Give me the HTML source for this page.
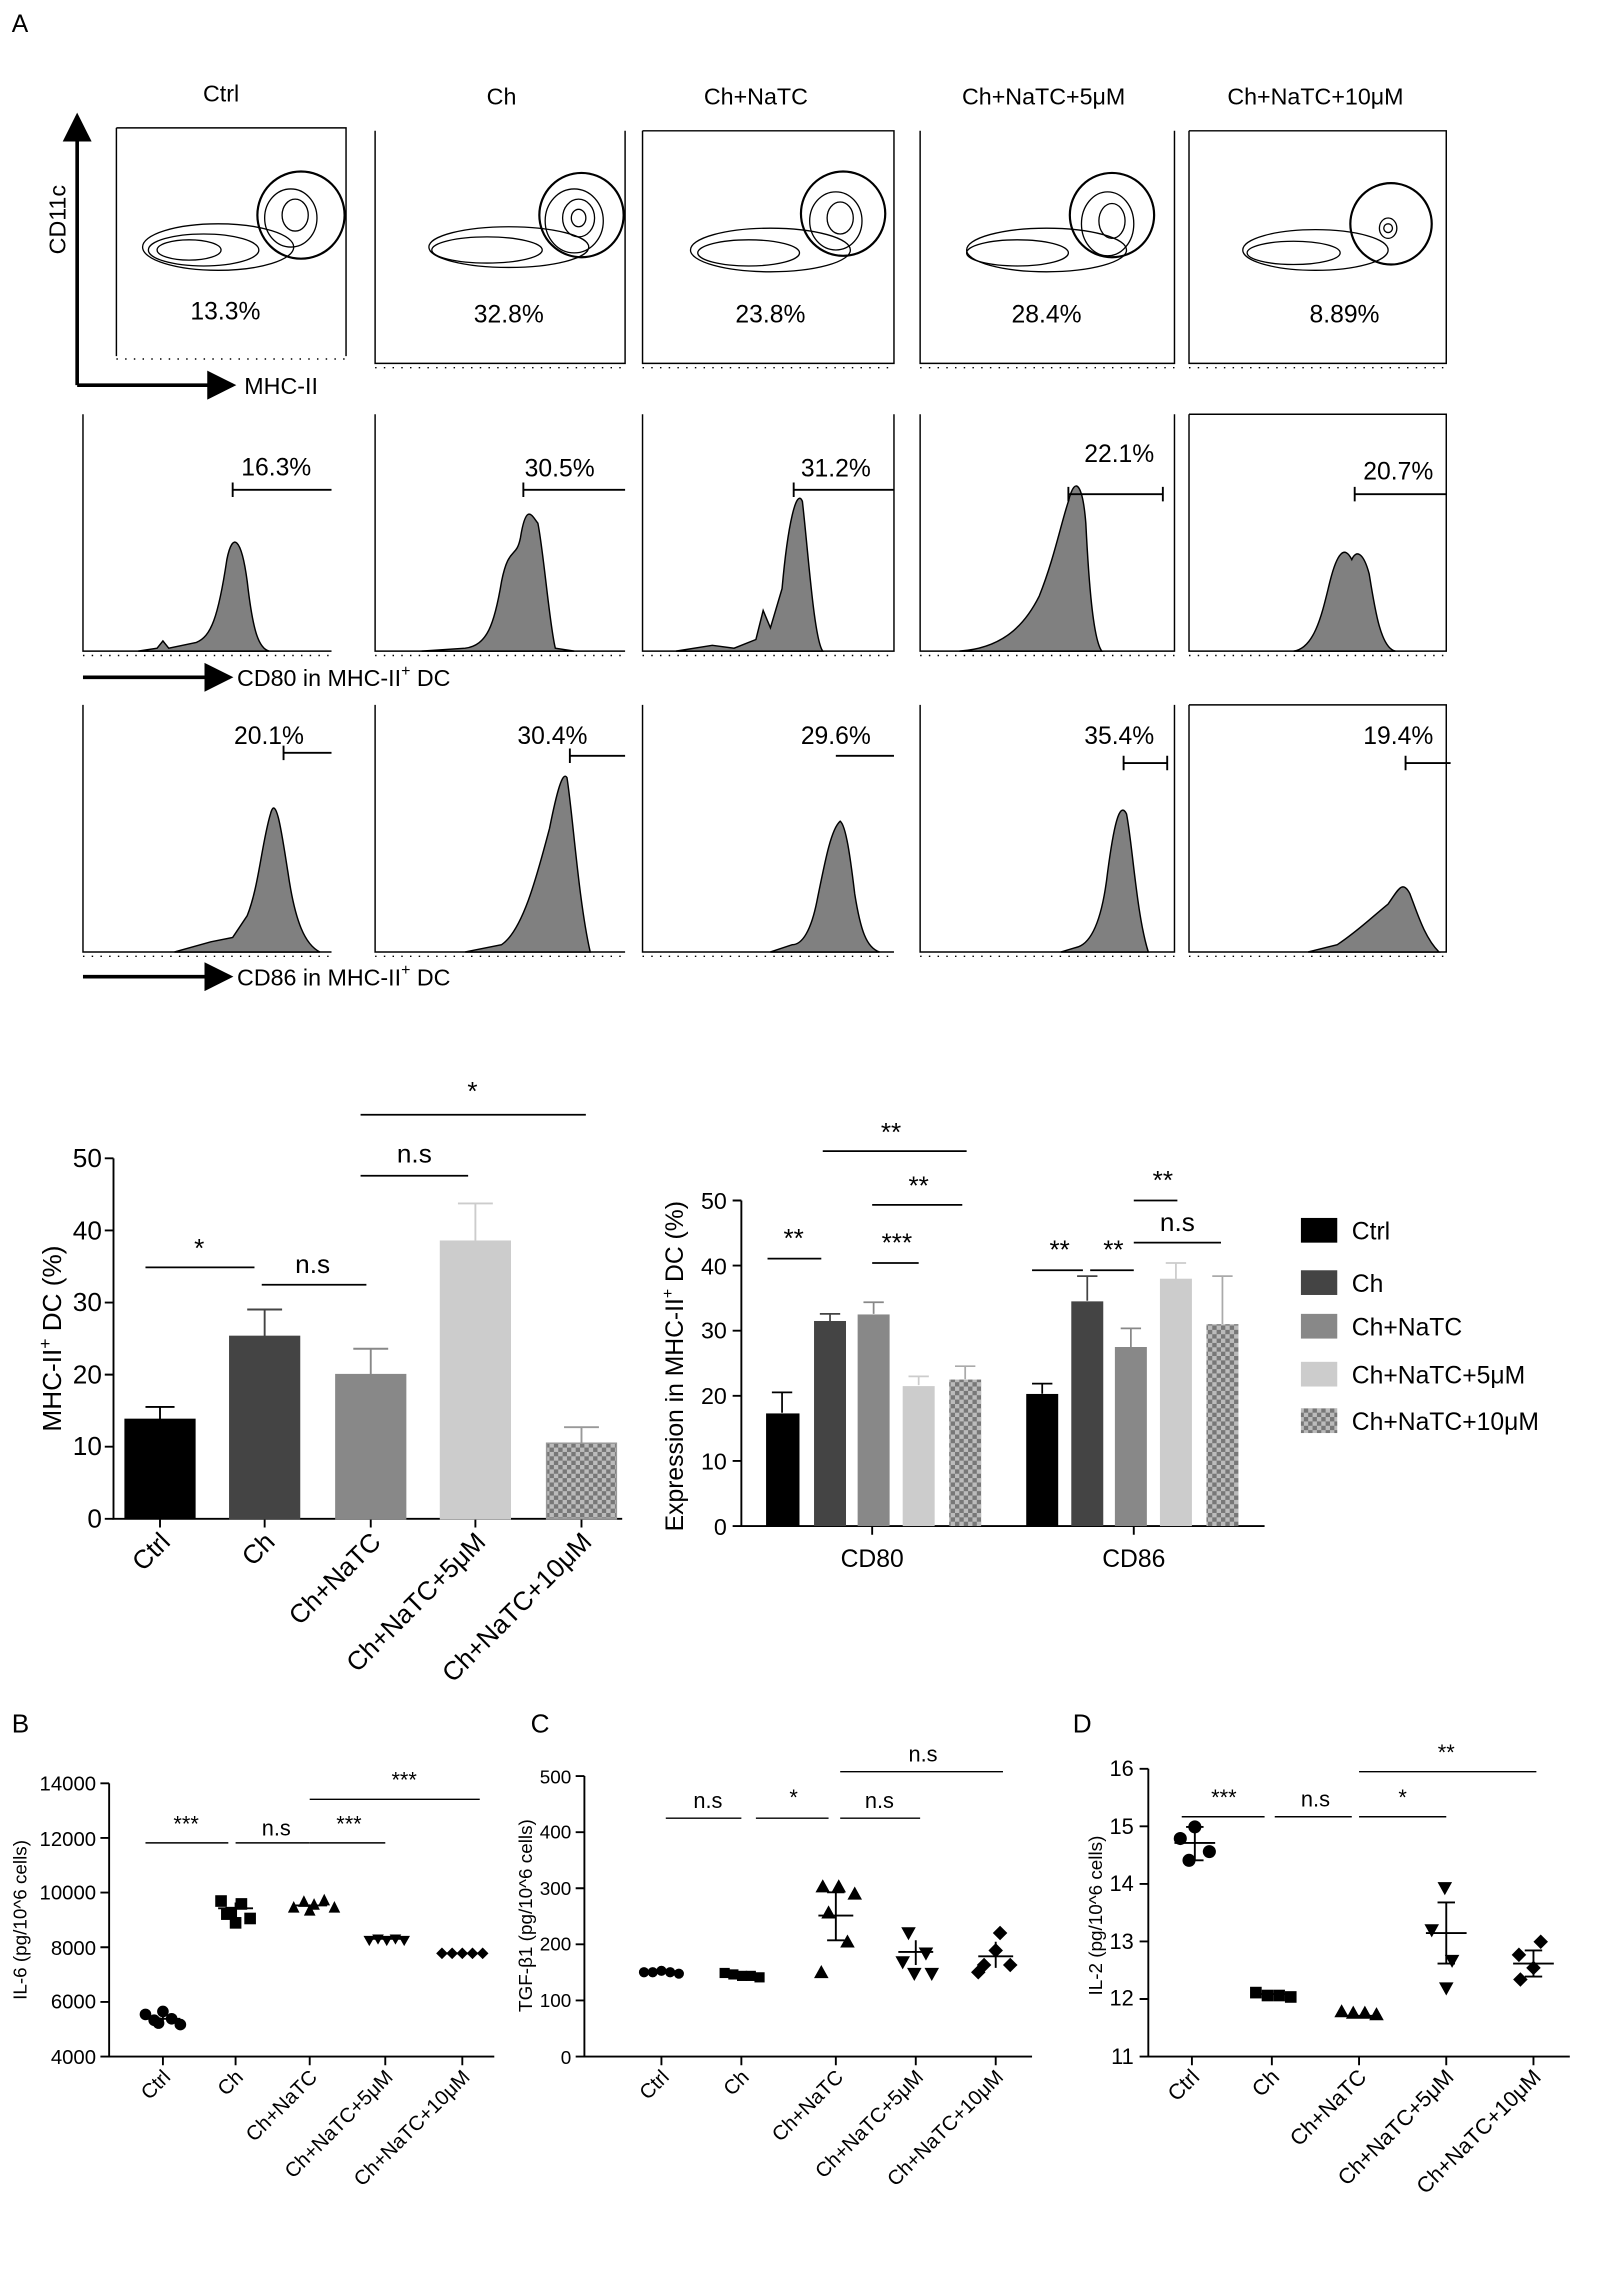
<!DOCTYPE html>
<html><head><meta charset="utf-8"><style>
html,body{margin:0;padding:0;background:#fff}
svg{display:block}
text{font-family:"Liberation Sans",Arial,sans-serif;fill:#000}
</style></head><body>
<svg width="1599" height="2292" viewBox="0 0 1100 1577" xmlns="http://www.w3.org/2000/svg">
<defs>
<pattern id="chk" width="6" height="6" patternUnits="userSpaceOnUse">
<rect width="6" height="6" fill="#bbb"/><rect width="3" height="3" fill="#777"/><rect x="3" y="3" width="3" height="3" fill="#777"/>
</pattern>
<marker id="ar" markerWidth="8" markerHeight="8" refX="7" refY="4" orient="auto"><path d="M0,0 L8,4 L0,8 Z" fill="#000"/></marker>
</defs>
<text x="8" y="22" font-size="17">A</text>
<g font-size="16" text-anchor="middle">
<text x="152" y="70">Ctrl</text><text x="345" y="72">Ch</text><text x="520" y="72">Ch+NaTC</text><text x="718" y="72">Ch+NaTC+5μM</text><text x="905" y="72">Ch+NaTC+10μM</text>
</g>
<g fill="none" stroke="#000" stroke-width="1">
<path d="M80,88 V245 M80,88 H238 V245"/>
<path d="M258,90 V250 H430 V90"/>
<path d="M442,90 V250 H615 V90 H442"/>
<path d="M633,90 V250 H808 V90"/>
<path d="M818,90 V250 H995 V90 H818"/>
</g>
<g stroke="#000" stroke-width="1" stroke-dasharray="1 5">
<line x1="80" y1="247" x2="238" y2="247"/><line x1="258" y1="253" x2="430" y2="253"/><line x1="442" y1="253" x2="615" y2="253"/><line x1="633" y1="253" x2="808" y2="253"/><line x1="818" y1="253" x2="995" y2="253"/>
</g>
<line x1="53" y1="265" x2="53" y2="80" stroke="#000" stroke-width="2.5" marker-end="url(#ar)"/>
<line x1="53" y1="265" x2="160" y2="265" stroke="#000" stroke-width="2.5" marker-end="url(#ar)"/>
<text x="30" y="170" font-size="16" transform="rotate(-90 40 165)">CD11c</text>
<text x="168" y="271" font-size="16">MHC-II</text>
<g fill="none" stroke="#000" stroke-width="0.9">
<g>
<ellipse cx="150" cy="170" rx="52" ry="16"/><ellipse cx="140" cy="172" rx="38" ry="11"/><ellipse cx="130" cy="172" rx="22" ry="7"/><ellipse cx="200" cy="150" rx="18" ry="20"/><ellipse cx="203" cy="148" rx="9" ry="11"/>
<circle cx="207" cy="148" r="30" stroke-width="1.5"/>
</g>
<g transform="translate(200,2)">
<ellipse cx="150" cy="168" rx="55" ry="14"/><ellipse cx="135" cy="170" rx="38" ry="9"/><ellipse cx="195" cy="150" rx="20" ry="22"/><ellipse cx="198" cy="148" rx="11" ry="13"/><ellipse cx="198" cy="148" rx="5" ry="6"/>
<circle cx="200" cy="146" r="29" stroke-width="1.5"/>
</g>
<g transform="translate(380,2)">
<ellipse cx="150" cy="170" rx="55" ry="15"/><ellipse cx="135" cy="172" rx="35" ry="9"/><ellipse cx="195" cy="150" rx="18" ry="20"/><ellipse cx="198" cy="148" rx="9" ry="11"/>
<circle cx="200" cy="145" r="29" stroke-width="1.5"/>
</g>
<g transform="translate(570,2)">
<ellipse cx="150" cy="170" rx="55" ry="15"/><ellipse cx="130" cy="172" rx="35" ry="9"/><ellipse cx="192" cy="152" rx="18" ry="22"/><ellipse cx="195" cy="150" rx="9" ry="12"/>
<circle cx="195" cy="146" r="29" stroke-width="1.5"/>
</g>
<g transform="translate(755,2)">
<ellipse cx="150" cy="170" rx="50" ry="14"/><ellipse cx="135" cy="172" rx="32" ry="8"/><ellipse cx="200" cy="155" rx="6" ry="7"/><ellipse cx="200" cy="155" rx="3" ry="3"/>
<circle cx="202" cy="152" r="28" stroke-width="1.5"/>
</g>
</g>
<g font-size="17" text-anchor="middle">
<text x="155" y="220">13.3%</text><text x="350" y="222">32.8%</text><text x="530" y="222">23.8%</text><text x="720" y="222">28.4%</text><text x="925" y="222">8.89%</text>
</g>
<g fill="none" stroke="#000" stroke-width="1">
<path d="M57,285 V448 H228"/><path d="M258,285 V448 H430"/><path d="M442,285 V448 H615 V285"/><path d="M633,285 V448 H808 V285"/><path d="M818,285 V448 H995 V285 H818"/>
<path d="M57,485 V655 H228"/><path d="M258,485 V655 H430"/><path d="M442,485 V655 H615"/><path d="M633,485 V655 H808 V485"/><path d="M818,485 V655 H995 V485 H818"/>
</g>
<g stroke="#000" stroke-width="1" stroke-dasharray="1 5">
<line x1="57" y1="451" x2="228" y2="451"/><line x1="258" y1="451" x2="430" y2="451"/><line x1="442" y1="451" x2="615" y2="451"/><line x1="633" y1="451" x2="808" y2="451"/><line x1="818" y1="451" x2="995" y2="451"/>
<line x1="57" y1="658" x2="228" y2="658"/><line x1="258" y1="658" x2="430" y2="658"/><line x1="442" y1="658" x2="615" y2="658"/><line x1="633" y1="658" x2="808" y2="658"/><line x1="818" y1="658" x2="995" y2="658"/>
</g>
<g fill="#808080" stroke="#000" stroke-width="1">
<path d="M95,448 L108,446 L112,441 L116,446 L135,442 C145,438 150,425 156,385 C160,365 166,370 170,400 C174,435 178,446 185,448 Z"/>
<path d="M290,448 L320,446 C335,444 340,430 345,400 C350,375 355,385 358,370 C362,345 366,355 370,360 C374,380 378,430 382,446 L395,448 Z"/>
<path d="M465,448 L490,444 L505,446 L520,440 L525,420 L530,432 L538,405 C542,360 548,335 552,345 C556,380 560,440 566,448 Z"/>
<path d="M660,448 C690,446 705,430 715,410 C725,385 730,360 735,345 C740,325 745,335 747,360 C749,400 752,440 758,448 Z"/>
<path d="M890,448 C905,446 910,420 915,400 C920,380 925,375 930,385 C933,378 938,380 942,395 C946,420 950,446 960,448 Z"/>
<path d="M120,655 L145,648 L160,645 L170,630 C178,610 180,580 186,560 C190,545 194,575 198,600 C203,635 210,650 220,655 Z"/>
<path d="M320,655 L345,650 C360,640 370,600 378,570 C383,545 387,530 390,535 C394,560 398,620 406,655 Z"/>
<path d="M530,655 L545,650 C552,650 558,640 562,620 C568,590 572,570 578,565 C582,568 585,590 588,615 C592,640 596,652 605,655 Z"/>
<path d="M730,655 L740,652 C750,650 758,635 762,600 C766,570 770,550 775,560 C779,580 782,630 790,655 Z"/>
<path d="M900,655 L920,650 C935,640 945,630 955,622 C962,612 965,605 970,615 C975,628 980,645 990,655 Z"/>
</g>
<g stroke="#000" stroke-width="1.3">
<path d="M160,337 H228 M160,332 V342"/><path d="M360,337 H430 M360,332 V342"/><path d="M546,337 H615 M546,332 V342"/><path d="M735,340 H800 M735,335 V345 M800,335 V345"/><path d="M932,340 H995 M932,335 V345"/>
<path d="M195,518 H228 M195,513 V523"/><path d="M392,520 H430 M392,515 V525"/><path d="M575,520 H615"/><path d="M773,525 H803 M773,520 V530 M803,520 V530"/><path d="M967,525 H998 M967,520 V530"/>
</g>
<g font-size="17" text-anchor="middle">
<text x="190" y="327">16.3%</text><text x="385" y="328">30.5%</text><text x="575" y="328">31.2%</text><text x="770" y="318">22.1%</text><text x="962" y="330">20.7%</text>
<text x="185" y="512">20.1%</text><text x="380" y="512">30.4%</text><text x="575" y="512">29.6%</text><text x="770" y="512">35.4%</text><text x="962" y="512">19.4%</text>
</g>
<line x1="57" y1="466" x2="158" y2="466" stroke="#000" stroke-width="2.5" marker-end="url(#ar)"/>
<text x="163" y="472" font-size="16">CD80 in MHC-II<tspan font-size="11" dy="-7">+</tspan><tspan dy="7"> DC</tspan></text>
<line x1="57" y1="672" x2="158" y2="672" stroke="#000" stroke-width="2.5" marker-end="url(#ar)"/>
<text x="163" y="678" font-size="16">CD86 in MHC-II<tspan font-size="11" dy="-7">+</tspan><tspan dy="7"> DC</tspan></text>

<!-- Bar chart 1 -->
<g stroke="#000" stroke-width="1.3" fill="none">
<path d="M78,797 V1045 H428"/>
<path d="M72,797 H78 M72,846.6 H78 M72,896.2 H78 M72,945.8 H78 M72,995.4 H78 M72,1045 H78"/>
<path d="M110,1045 V1051 M182,1045 V1051 M255,1045 V1051 M327,1045 V1051 M400,1045 V1051"/>
</g>
<g font-size="18" text-anchor="end">
<text x="70" y="803">50</text><text x="70" y="853">40</text><text x="70" y="902">30</text><text x="70" y="952">20</text><text x="70" y="1001">10</text><text x="70" y="1051">0</text>
</g>
<text font-size="18" text-anchor="middle" transform="translate(42,921) rotate(-90)">MHC-II<tspan font-size="12" dy="-7">+</tspan><tspan dy="7"> DC (%)</tspan></text>
<g stroke="#000" stroke-width="1">
<rect x="86" y="976.6" width="48" height="68.4" fill="#000"/>
<rect x="158" y="919.5" width="48" height="125.5" fill="#444" stroke="#444"/>
<rect x="231" y="945.8" width="48" height="99.2" fill="#888" stroke="#888"/>
<rect x="303" y="854" width="48" height="191" fill="#ccc" stroke="#ccc"/>
<rect x="376" y="993" width="48" height="52" fill="url(#chk)" stroke="#999"/>
</g>
<g stroke-width="1.3" fill="none">
<path d="M110,976.6 V968 M100,968 H120" stroke="#000"/>
<path d="M182,919.5 V901 M170,901 H194" stroke="#444"/>
<path d="M255,945.8 V928 M243,928 H267" stroke="#888"/>
<path d="M327,854 V828 M315,828 H339" stroke="#ccc"/>
<path d="M400,993 V982 M388,982 H412" stroke="#999"/>
</g>
<g stroke="#000" stroke-width="1.2">
<line x1="100" y1="872" x2="175" y2="872"/><line x1="180" y1="884" x2="252" y2="884"/><line x1="248" y1="809" x2="322" y2="809"/><line x1="248" y1="767" x2="403" y2="767"/>
</g>
<g font-size="18" text-anchor="middle">
<text x="137" y="865">*</text><text x="215" y="876">n.s</text><text x="285" y="800">n.s</text><text x="325" y="757">*</text>
</g>
<g font-size="18" text-anchor="end">
<text transform="translate(118,1062) rotate(-45)">Ctrl</text>
<text transform="translate(190,1062) rotate(-45)">Ch</text>
<text transform="translate(263,1062) rotate(-45)">Ch+NaTC</text>
<text transform="translate(335,1062) rotate(-45)">Ch+NaTC+5μM</text>
<text transform="translate(408,1062) rotate(-45)">Ch+NaTC+10μM</text>
</g>

<!-- Bar chart 2 -->
<g stroke="#000" stroke-width="1.3" fill="none">
<path d="M510,826 V1050 H870"/>
<path d="M504,826 H510 M504,870.8 H510 M504,915.6 H510 M504,960.4 H510 M504,1005.2 H510 M504,1050 H510"/>
<path d="M600,1050 V1056 M780,1050 V1056"/>
</g>
<g font-size="16" text-anchor="end">
<text x="500" y="832">50</text><text x="500" y="877">40</text><text x="500" y="921">30</text><text x="500" y="966">20</text><text x="500" y="1011">10</text><text x="500" y="1056">0</text>
</g>
<text font-size="17" text-anchor="middle" transform="translate(470,940) rotate(-90)">Expression in MHC-II<tspan font-size="11" dy="-7">+</tspan><tspan dy="7"> DC (%)</tspan></text>
<g>
<rect x="527" y="972.5" width="23" height="77.5" fill="#000"/>
<rect x="560" y="908.9" width="22" height="141.1" fill="#444"/>
<rect x="590" y="904.4" width="22" height="145.6" fill="#888"/>
<rect x="621" y="953.7" width="22" height="96.3" fill="#ccc"/>
<rect x="653" y="949.2" width="22" height="100.8" fill="url(#chk)"/>
<rect x="706" y="959.1" width="22" height="90.9" fill="#000"/>
<rect x="737" y="895.4" width="22" height="154.6" fill="#444"/>
<rect x="767" y="926.8" width="22" height="123.2" fill="#888"/>
<rect x="798" y="879.8" width="22" height="170.2" fill="#ccc"/>
<rect x="830" y="911.1" width="22" height="138.9" fill="url(#chk)"/>
</g>
<g stroke-width="1.2" fill="none">
<path d="M538,972 V958 M531,958 H545" stroke="#000"/>
<path d="M571,909 V904 M564,904 H578" stroke="#444"/>
<path d="M601,904 V896 M594,896 H608" stroke="#888"/>
<path d="M632,953 V947 M625,947 H639" stroke="#ccc"/>
<path d="M664,949 V940 M657,940 H671" stroke="#aaa"/>
<path d="M717,959 V952 M710,952 H724" stroke="#000"/>
<path d="M748,895 V878 M741,878 H755" stroke="#444"/>
<path d="M778,927 V914 M771,914 H785" stroke="#888"/>
<path d="M809,880 V869 M802,869 H816" stroke="#ccc"/>
<path d="M841,911 V878 M834,878 H848" stroke="#aaa"/>
</g>
<g stroke="#000" stroke-width="1.2">
<line x1="528" y1="866" x2="565" y2="866"/><line x1="566" y1="792" x2="665" y2="792"/><line x1="600" y1="829" x2="662" y2="829"/><line x1="600" y1="869" x2="632" y2="869"/>
<line x1="710" y1="874" x2="745" y2="874"/><line x1="750" y1="874" x2="780" y2="874"/><line x1="780" y1="826" x2="810" y2="826"/><line x1="780" y1="855" x2="840" y2="855"/>
</g>
<g font-size="18" text-anchor="middle">
<text x="546" y="858">**</text><text x="613" y="785">**</text><text x="632" y="822">**</text><text x="617" y="861">***</text>
<text x="729" y="866">**</text><text x="766" y="866">**</text><text x="800" y="818">**</text><text x="810" y="847">n.s</text>
</g>
<g font-size="17" text-anchor="middle"><text x="600" y="1078">CD80</text><text x="780" y="1078">CD86</text></g>
<rect x="895" y="838" width="25" height="17" fill="#000"/>
<rect x="895" y="874" width="25" height="17" fill="#444"/>
<rect x="895" y="904" width="25" height="17" fill="#888"/>
<rect x="895" y="937" width="25" height="17" fill="#ccc"/>
<rect x="895" y="969" width="25" height="17" fill="url(#chk)"/>
<g font-size="17">
<text x="930" y="853">Ctrl</text><text x="930" y="889">Ch</text><text x="930" y="919">Ch+NaTC</text><text x="930" y="952">Ch+NaTC+5μM</text><text x="930" y="984">Ch+NaTC+10μM</text>
</g>

<!-- B -->
<text x="8" y="1192" font-size="18">B</text>
<g stroke="#000" stroke-width="1.3" fill="none">
<path d="M75,1227 V1415 H340"/>
<path d="M69,1227 H75 M69,1264.6 H75 M69,1302.2 H75 M69,1339.8 H75 M69,1377.4 H75 M69,1415 H75"/>
<path d="M112,1415 V1421 M162,1415 V1421 M213,1415 V1421 M265,1415 V1421 M318,1415 V1421"/>
</g>
<g font-size="14" text-anchor="end">
<text x="66" y="1232">14000</text><text x="66" y="1270">12000</text><text x="66" y="1307">10000</text><text x="66" y="1345">8000</text><text x="66" y="1382">6000</text><text x="66" y="1420">4000</text>
</g>
<text font-size="13" text-anchor="middle" transform="translate(18,1321) rotate(-90)">IL-6 (pg/10^6 cells)</text>
<g fill="#000">
<circle cx="100" cy="1386" r="4"/><circle cx="106" cy="1390" r="4"/><circle cx="112" cy="1384" r="4"/><circle cx="118" cy="1389" r="4"/><circle cx="124" cy="1393" r="4"/><circle cx="109" cy="1392" r="4"/>
<rect x="148" y="1304" width="8" height="8"/><rect x="155" y="1312" width="8" height="8"/><rect x="162" y="1306" width="8" height="8"/><rect x="168" y="1316" width="8" height="8"/><rect x="158" y="1319" width="8" height="8"/><rect x="152" y="1313" width="8" height="8"/>
<path d="M198,1316 l4,-8 l4,8z M205,1312 l4,-8 l4,8z M212,1314 l4,-8 l4,8z M219,1311 l4,-8 l4,8z M226,1316 l4,-8 l4,8z M209,1318 l4,-8 l4,8z"/>
<path d="M250,1332 l4,7 l4,-7z M256,1331 l4,7 l4,-7z M262,1332 l4,7 l4,-7z M268,1331 l4,7 l4,-7z M274,1332 l4,7 l4,-7z"/>
<path d="M300,1344 l4,-4 l4,4 l-4,4z M307,1344 l4,-4 l4,4 l-4,4z M314,1344 l4,-4 l4,4 l-4,4z M321,1344 l4,-4 l4,4 l-4,4z M328,1344 l4,-4 l4,4 l-4,4z"/>
</g>
<g stroke="#000" stroke-width="1.3">
<path d="M100,1389 H124 M112,1387 V1391"/><path d="M150,1313 H174 M162,1309 V1318"/><path d="M201,1311 H225"/><path d="M253,1334 H277"/><path d="M306,1344 H330"/>
</g>
<g stroke="#000" stroke-width="1">
<line x1="100" y1="1268" x2="157" y2="1268"/><line x1="162" y1="1268" x2="213" y2="1268"/><line x1="213" y1="1268" x2="265" y2="1268"/><line x1="213" y1="1238" x2="330" y2="1238"/>
</g>
<g font-size="15" text-anchor="middle"><text x="128" y="1260">***</text><text x="190" y="1263">n.s</text><text x="240" y="1260">***</text><text x="278" y="1230">***</text></g>
<g font-size="14" text-anchor="end">
<text transform="translate(118,1430) rotate(-45)">Ctrl</text><text transform="translate(168,1430) rotate(-45)">Ch</text><text transform="translate(219,1430) rotate(-45)">Ch+NaTC</text><text transform="translate(271,1430) rotate(-45)">Ch+NaTC+5μM</text><text transform="translate(324,1430) rotate(-45)">Ch+NaTC+10μM</text>
</g>

<!-- C -->
<text x="365" y="1192" font-size="18">C</text>
<g stroke="#000" stroke-width="1.3" fill="none">
<path d="M402,1222 V1415 H710"/>
<path d="M396,1222 H402 M396,1260.6 H402 M396,1299.2 H402 M396,1337.8 H402 M396,1376.4 H402 M396,1415 H402"/>
<path d="M455,1415 V1421 M510,1415 V1421 M575,1415 V1421 M630,1415 V1421 M685,1415 V1421"/>
</g>
<g font-size="13" text-anchor="end">
<text x="393" y="1227">500</text><text x="393" y="1265">400</text><text x="393" y="1304">300</text><text x="393" y="1342">200</text><text x="393" y="1381">100</text><text x="393" y="1420">0</text>
</g>
<text font-size="13" text-anchor="middle" transform="translate(366,1318) rotate(-90)">TGF-β1 (pg/10^6 cells)</text>
<g fill="#000">
<circle cx="443" cy="1357" r="3.5"/><circle cx="449" cy="1357" r="3.5"/><circle cx="455" cy="1356" r="3.5"/><circle cx="461" cy="1357" r="3.5"/><circle cx="467" cy="1358" r="3.5"/>
<rect x="495" y="1354" width="7" height="7"/><rect x="501" y="1355" width="7" height="7"/><rect x="507" y="1356" width="7" height="7"/><rect x="513" y="1356" width="7" height="7"/><rect x="519" y="1357" width="7" height="7"/>
<path d="M561,1302 l5,-9 l5,9z M572,1302 l5,-9 l5,9z M583,1307 l5,-9 l5,9z M565,1320 l5,-9 l5,9z M578,1340 l5,-9 l5,9z M560,1361 l5,-9 l5,9z"/>
<path d="M620,1326 l5,9 l5,-9z M632,1340 l5,9 l5,-9z M616,1346 l5,9 l5,-9z M624,1354 l5,9 l5,-9z M636,1354 l5,9 l5,-9z"/>
<path d="M683,1330 l5,-5 l5,5 l-5,5z M680,1342 l5,-5 l5,5 l-5,5z M672,1352 l5,-5 l5,5 l-5,5z M690,1352 l5,-5 l5,5 l-5,5z M668,1357 l5,-5 l5,5 l-5,5z"/>
</g>
<g stroke="#000" stroke-width="1.3">
<path d="M443,1357 H467"/><path d="M498,1358 H522"/><path d="M563,1318 H587 M575,1302 V1335 M569,1302 H581 M569,1335 H581"/><path d="M618,1343 H642 M630,1335 V1352"/><path d="M673,1346 H697 M685,1336 V1354"/>
</g>
<g stroke="#000" stroke-width="1">
<line x1="458" y1="1251" x2="510" y2="1251"/><line x1="520" y1="1251" x2="570" y2="1251"/><line x1="578" y1="1251" x2="633" y2="1251"/><line x1="578" y1="1219" x2="690" y2="1219"/>
</g>
<g font-size="15" text-anchor="middle"><text x="487" y="1244">n.s</text><text x="546" y="1242">*</text><text x="605" y="1244">n.s</text><text x="635" y="1212">n.s</text></g>
<g font-size="14" text-anchor="end">
<text transform="translate(461,1430) rotate(-45)">Ctrl</text><text transform="translate(516,1430) rotate(-45)">Ch</text><text transform="translate(581,1430) rotate(-45)">Ch+NaTC</text><text transform="translate(636,1430) rotate(-45)">Ch+NaTC+5μM</text><text transform="translate(691,1430) rotate(-45)">Ch+NaTC+10μM</text>
</g>

<!-- D -->
<text x="738" y="1192" font-size="18">D</text>
<g stroke="#000" stroke-width="1.3" fill="none">
<path d="M790,1217 V1415 H1080"/>
<path d="M784,1217 H790 M784,1256.6 H790 M784,1296.2 H790 M784,1335.8 H790 M784,1375.4 H790 M784,1415 H790"/>
<path d="M820,1415 V1421 M875,1415 V1421 M935,1415 V1421 M995,1415 V1421 M1055,1415 V1421"/>
</g>
<g font-size="15" text-anchor="end">
<text x="780" y="1222">16</text><text x="780" y="1262">15</text><text x="780" y="1301">14</text><text x="780" y="1341">13</text><text x="780" y="1380">12</text><text x="780" y="1420">11</text>
</g>
<text font-size="13" text-anchor="middle" transform="translate(758,1318) rotate(-90)">IL-2 (pg/10^6 cells)</text>
<g fill="#000">
<circle cx="822" cy="1257" r="4.5"/><circle cx="812" cy="1265" r="4.5"/><circle cx="832" cy="1274" r="4.5"/><circle cx="818" cy="1280" r="4.5"/>
<rect x="860" y="1367" width="8" height="8"/><rect x="868" y="1369" width="8" height="8"/><rect x="876" y="1369" width="8" height="8"/><rect x="884" y="1370" width="8" height="8"/>
<path d="M918,1388 l5,-9 l5,9z M926,1389 l5,-9 l5,9z M934,1389 l5,-9 l5,9z M942,1390 l5,-9 l5,9z"/>
<path d="M989,1295 l5,9 l5,-9z M980,1324 l5,9 l5,-9z M994,1345 l5,9 l5,-9z M990,1364 l5,9 l5,-9z"/>
<path d="M1055,1336 l5,-5 l5,5 l-5,5z M1040,1345 l5,-5 l5,5 l-5,5z M1050,1354 l5,-5 l5,5 l-5,5z M1041,1362 l5,-5 l5,5 l-5,5z"/>
</g>
<g stroke="#000" stroke-width="1.3">
<path d="M808,1268 H836 M822,1257 V1280 M816,1257 H828 M816,1280 H828"/><path d="M862,1372 H890"/><path d="M922,1387 H950"/>
<path d="M981,1330 H1009 M995,1309 V1351 M989,1309 H1001 M989,1351 H1001"/><path d="M1041,1351 H1069 M1055,1342 V1360 M1049,1342 H1061 M1049,1360 H1061"/>
</g>
<g stroke="#000" stroke-width="1">
<line x1="813" y1="1250" x2="870" y2="1250"/><line x1="877" y1="1250" x2="930" y2="1250"/><line x1="935" y1="1250" x2="995" y2="1250"/><line x1="935" y1="1219" x2="1057" y2="1219"/>
</g>
<g font-size="15" text-anchor="middle"><text x="842" y="1242">***</text><text x="905" y="1243">n.s</text><text x="965" y="1242">*</text><text x="995" y="1211">**</text></g>
<g font-size="15" text-anchor="end">
<text transform="translate(826,1430) rotate(-45)">Ctrl</text><text transform="translate(881,1430) rotate(-45)">Ch</text><text transform="translate(941,1430) rotate(-45)">Ch+NaTC</text><text transform="translate(1001,1430) rotate(-45)">Ch+NaTC+5μM</text><text transform="translate(1061,1430) rotate(-45)">Ch+NaTC+10μM</text>
</g>
</svg>
</body></html>
